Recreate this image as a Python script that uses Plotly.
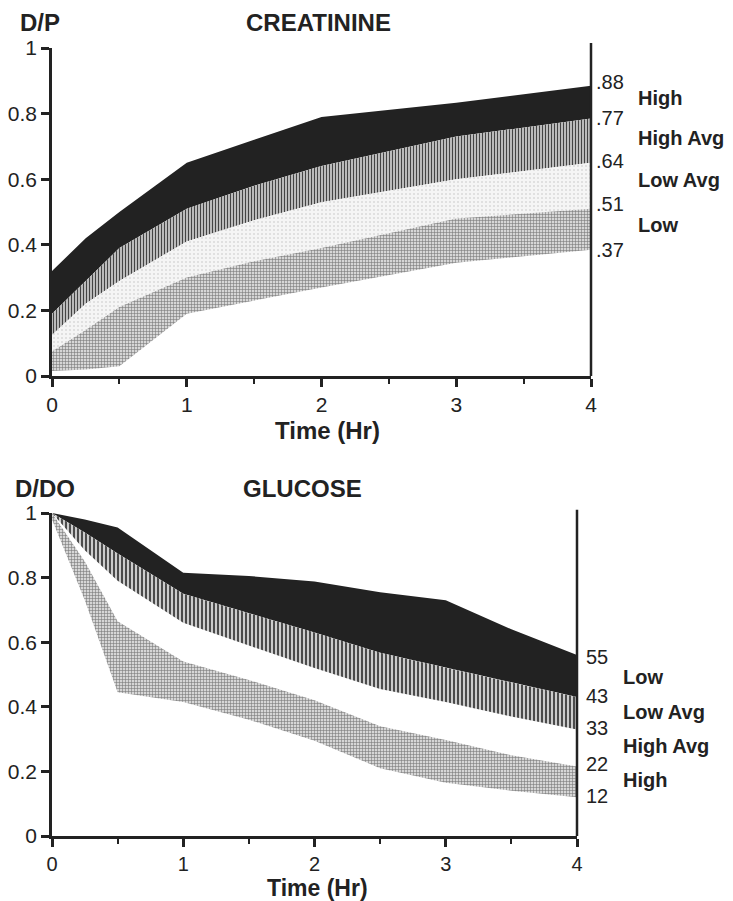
import plotly.graph_objects as go

# ---------------- DATA ----------------
creat_time = [0, 0.25, 0.5, 1, 1.5, 2, 3, 4]
creat_high_top = [0.32, 0.42, 0.50, 0.65, 0.72, 0.79, 0.833, 0.885]
creat_high_avg_top = [0.19, 0.29, 0.39, 0.51, 0.58, 0.64, 0.73, 0.785]
creat_low_avg_top = [0.125, 0.22, 0.29, 0.41, 0.475, 0.53, 0.60, 0.65]
creat_low_top = [0.075, 0.14, 0.21, 0.30, 0.35, 0.39, 0.48, 0.51]
creat_low_bottom = [0.015, 0.02, 0.03, 0.19, 0.23, 0.27, 0.345, 0.385]
creat_end_labels = [".88", ".77", ".64", ".51", ".37"]
creat_categories = ["High", "High Avg", "Low Avg", "Low"]

glu_time = [0, 0.25, 0.5, 1, 1.5, 2, 2.5, 3, 3.5, 4]
glu_low_top = [1.0, 0.98, 0.955, 0.815, 0.805, 0.788, 0.755, 0.73, 0.64, 0.56]
glu_low_avg_top = [1.0, 0.94, 0.875, 0.75, 0.69, 0.63, 0.567, 0.52, 0.475, 0.43]
glu_high_avg_top = [1.0, 0.885, 0.79, 0.66, 0.59, 0.52, 0.455, 0.415, 0.37, 0.33]
glu_high_top = [1.0, 0.85, 0.665, 0.54, 0.483, 0.42, 0.34, 0.297, 0.25, 0.215]
glu_high_bottom = [0.98, 0.73, 0.445, 0.415, 0.36, 0.295, 0.21, 0.165, 0.14, 0.12]
glu_end_labels = ["55", "43", "33", "22", "12"]
glu_categories = ["Low", "Low Avg", "High Avg", "High"]

x_ticks = [0, 1, 2, 3, 4]
y_ticks = [0, 0.2, 0.4, 0.6, 0.8, 1]

# ---------------- LAYOUT HELPERS ----------------
# page body has an 8px default margin; the figure is sized to fit the window
OFF = 8
W, H = 733 - OFF, 901 - OFF
ML, MR = 52 - OFF, 142
PW = W - ML - MR


def px_x(p):
    return (p - OFF - ML) / PW


def px_y(p):
    return 1 - (p - OFF) / H


FONT = "Liberation Sans, Arial, Helvetica, sans-serif"
INK = "#222222"

BLACK = dict(fillcolor="#222222")
VHATCH_TOP = dict(fillpattern=dict(shape="|", fgcolor="#444444", bgcolor="#c8c8c8",
                                   size=3, solidity=0.4))
VHATCH_BOT = dict(fillpattern=dict(shape="|", fgcolor="#2a2a2a", bgcolor="#cccccc",
                                   size=4, solidity=0.4))
STIPPLE = dict(fillpattern=dict(shape=".", fgcolor="#dadada", bgcolor="#f5f5f5",
                                size=4, solidity=0.2))
XHATCH = dict(fillpattern=dict(shape="+", fgcolor="#7a7a7a", bgcolor="#d6d6d6",
                               size=3, solidity=0.35))

fig = go.Figure()


def band(t, upper, lower, style, xa, ya):
    xs = list(t) + list(t)[::-1]
    ys = list(upper) + list(lower)[::-1]
    fig.add_trace(go.Scatter(x=xs, y=ys, mode="lines", fill="toself",
                             line=dict(width=0, color="rgba(0,0,0,0)"),
                             hoverinfo="skip", showlegend=False,
                             xaxis=xa, yaxis=ya, **style))


# creatinine bands
band(creat_time, creat_high_top, creat_high_avg_top, BLACK, "x", "y")
band(creat_time, creat_high_avg_top, creat_low_avg_top, VHATCH_TOP, "x", "y")
band(creat_time, creat_low_avg_top, creat_low_top, STIPPLE, "x", "y")
band(creat_time, creat_low_top, creat_low_bottom, XHATCH, "x", "y")

# glucose bands
band(glu_time, glu_low_top, glu_low_avg_top, BLACK, "x2", "y2")
band(glu_time, glu_low_avg_top, glu_high_avg_top, VHATCH_BOT, "x2", "y2")
band(glu_time, glu_high_top, glu_high_bottom, XHATCH, "x2", "y2")

axis_common = dict(
    showline=True, linewidth=2.5, linecolor=INK,
    ticks="outside", ticklen=8, tickwidth=2.5, tickcolor=INK,
    showgrid=False, zeroline=False, automargin=False,
    tickfont=dict(family=FONT, size=21, color=INK),
    fixedrange=True,
)

xaxis_common = dict(axis_common, range=[0, 4], tickvals=x_ticks,
                    minor=dict(dtick=0.5, ticks="outside", ticklen=5,
                               tickwidth=2, tickcolor=INK, showgrid=False))
yaxis_common = dict(axis_common, range=[0, 1], tickvals=y_ticks,
                    ticktext=[f"{v:g}" for v in y_ticks])

fig.update_layout(
    template="none",
    width=W, height=H,
    margin=dict(l=ML, r=MR, t=0, b=0, autoexpand=False),
    paper_bgcolor="white", plot_bgcolor="white",
    showlegend=False,
    xaxis=dict(xaxis_common, domain=[0, 1], anchor="y"),
    yaxis=dict(yaxis_common, domain=[px_y(376), px_y(48)], anchor="x"),
    xaxis2=dict(xaxis_common, domain=[0, px_x(577)], anchor="y2",
                tickfont=dict(family=FONT, size=20, color=INK)),
    yaxis2=dict(yaxis_common, domain=[px_y(836), px_y(513)], anchor="x2"),
)

# right-hand vertical lines
fig.add_shape(type="line", xref="x domain", yref="y domain", x0=1, x1=1, y0=0, y1=1.015,
              line=dict(color=INK, width=2.5))
fig.add_shape(type="line", xref="x2 domain", yref="y2 domain", x0=1, x1=1, y0=0, y1=1.01,
              line=dict(color=INK, width=2.5))

ann = []
BOLD24 = dict(family=FONT, size=24, color=INK)


def title(text, x, y, anchor, font=BOLD24, **extra):
    d = dict(text=f"<b>{text}</b>", xref="paper", yref="paper",
             x=px_x(x), y=px_y(y), xanchor=anchor, yanchor="middle",
             showarrow=False, font=font)
    d.update(extra)
    ann.append(d)


title("D/P", 18, 23, "left")
title("CREATININE", 318, 22, "center")
title("Time (Hr)", 327, 431, "center")
title("D/DO", 13, 488, "left")
title("GLUCOSE", 302, 488, "center")
title("Time (Hr)", 317, 888, "center", font=dict(family=FONT, size=23, color=INK),
      borderpad=0)

# end labels and category labels
for i, lab in enumerate(creat_end_labels):
    ann.append(dict(text=lab, xref="x", yref="y", x=4, y=float(lab), xanchor="left",
                    yanchor="middle", xshift=3, yshift=5, showarrow=False,
                    font=dict(family=FONT, size=20, color=INK)))
for i, cat in enumerate(creat_categories):
    ymid = (float(creat_end_labels[i]) + float(creat_end_labels[i + 1])) / 2
    ann.append(dict(text=f"<b>{cat}</b>", xref="x", yref="y", x=4, y=ymid,
                    xanchor="left", yanchor="middle", xshift=45, yshift=7,
                    showarrow=False, font=dict(family=FONT, size=20, color=INK)))

for i, lab in enumerate(glu_end_labels):
    ann.append(dict(text=lab, xref="x2", yref="y2", x=4, y=float(lab) / 100,
                    xanchor="left", yanchor="middle", xshift=7, yshift=1,
                    showarrow=False, font=dict(family=FONT, size=20, color=INK)))
for i, cat in enumerate(glu_categories):
    ymid = (float(glu_end_labels[i]) + float(glu_end_labels[i + 1])) / 200
    ann.append(dict(text=f"<b>{cat}</b>", xref="x2", yref="y2", x=4, y=ymid,
                    xanchor="left", yanchor="middle", xshift=44, yshift=1,
                    showarrow=False, font=dict(family=FONT, size=20, color=INK)))

fig.update_layout(annotations=ann)

fig.write_html("out.html")
